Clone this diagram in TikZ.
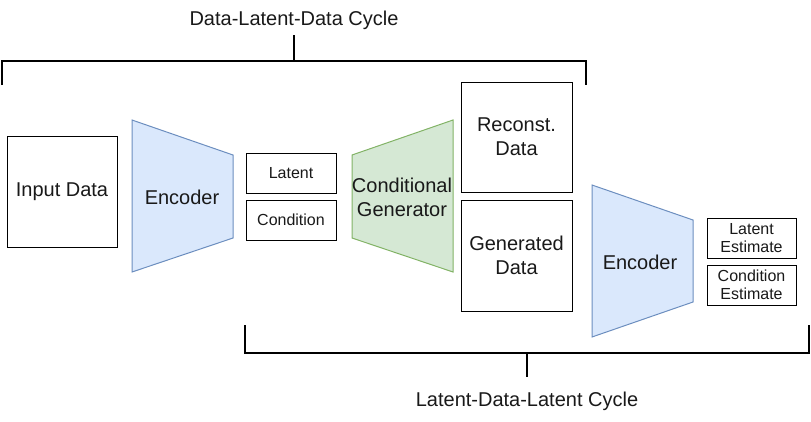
\documentclass[tikz,border=0pt]{standalone}
\usepackage{fontspec}
\setmainfont{Liberation Sans}
\definecolor{encfill}{HTML}{DAE8FC}
\definecolor{encstroke}{HTML}{6C8EBF}
\definecolor{genfill}{HTML}{D5E8D4}
\definecolor{genstroke}{HTML}{82B366}
\begin{document}
\begin{tikzpicture}[x=1pt,y=-1pt,
  big/.style={font=\fontsize{20}{24}\selectfont, align=center, text=black!90},
  small/.style={font=\fontsize{16}{18.5}\selectfont, align=center, text=black!90},
  box/.style={draw=black, line width=1pt, inner sep=0pt, fill=white},
  encshape/.style={draw=encstroke, fill=encfill, line width=1pt},
  genshape/.style={draw=genstroke, fill=genfill, line width=1pt},
  bracket/.style={draw=black, line width=2pt},
]
\useasboundingbox (0,0) rectangle (811,421);

% boxes
\node[box, big, minimum width=110, minimum height=111] (input) at (62,191.5) {Input Data};
\node[box, small, minimum width=90, minimum height=40] (latent) at (291,173) {Latent};
\node[box, small, minimum width=90, minimum height=40] (cond) at (291,220) {Condition};
\node[box, big, minimum width=111, minimum height=110] (recon) at (516.5,137) {Reconst.\\Data};
\node[box, big, minimum width=111, minimum height=111] (gend) at (516.5,255.5) {Generated\\Data};
\node[box, small, minimum width=89, minimum height=40] (latest) at (751.5,238) {Latent\\Estimate};
\node[box, small, minimum width=89, minimum height=40] (condest) at (751.5,285) {Condition\\Estimate};

% trapezoids
\draw[encshape] (132,120) -- (233,155) -- (233,238) -- (132,272) -- cycle;
\node[big] (enc1) at (182,197) {Encoder};
\draw[genshape] (352,155) -- (453,120) -- (453,272) -- (352,238) -- cycle;
\node[big] (gen) at (402,197) {Conditional\\Generator};
\draw[encshape] (592,185) -- (693,220) -- (693,302) -- (592,337) -- cycle;
\node[big] (enc2) at (640,262) {Encoder};

% top bracket
\coordinate (tl) at (2,85);
\coordinate (tr) at (586,85);
\coordinate (tm) at (294,60.5);
\node[big] (toptitle) at (294,20) {Data-Latent-Data Cycle};
\draw[bracket] (tl) |- (tm) -| (tr);
\draw[bracket] (tm) -- (294,35);

% bottom bracket
\coordinate (bl) at (245,325);
\coordinate (br) at (809,325);
\coordinate (bm) at (527,352.5);
\node[big] (bottitle) at (527,401) {Latent-Data-Latent Cycle};
\draw[bracket] (bl) |- (bm) -| (br);
\draw[bracket] (bm) -- (527,377);
\end{tikzpicture}
\end{document}
